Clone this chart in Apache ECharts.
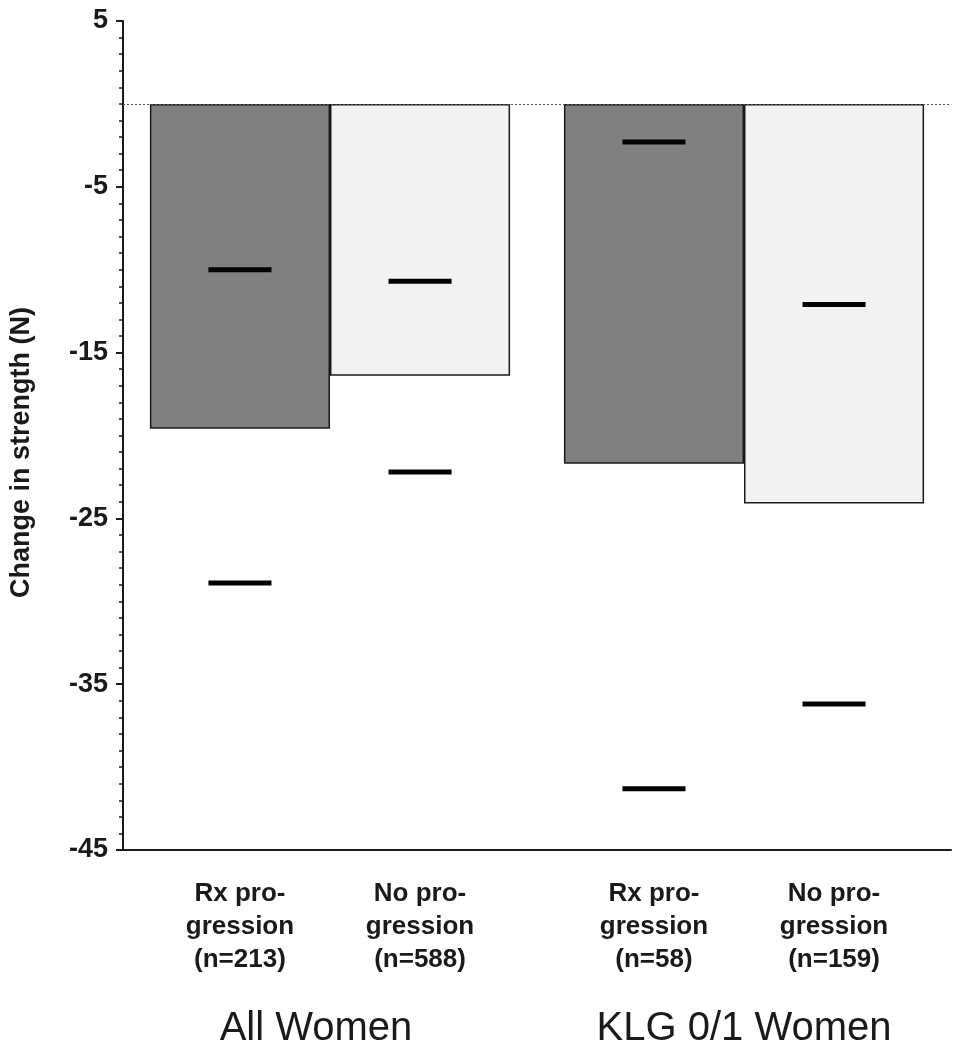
<!DOCTYPE html>
<html>
<head>
<meta charset="utf-8">
<script src="https://cdn.jsdelivr.net/npm/echarts@6/dist/echarts.min.js"></script>
<style>html,body{margin:0;padding:0;background:#fff;}#c{width:955px;height:1050px;}</style>
</head>
<body>
<div id="c"></div>
<script>
var groups = ['All Women', 'KLG 0/1 Women'];
var barLabels = [
  'Rx pro-\ngression\n(n=213)', 'No pro-\ngression\n(n=588)',
  'Rx pro-\ngression\n(n=58)', 'No pro-\ngression\n(n=159)'
];
var rxMeans = [-19.6, -21.7];
var noMeans = [-16.4, -24.1];
// [group index, sub index (0 = Rx, 1 = No), upper CI, lower CI]
var ciRx = [[0, 0, -10.0, -28.9], [1, 0, -2.3, -41.3]];
var ciNo = [[0, 1, -10.7, -22.2], [1, 1, -12.1, -36.2]];
var yTickValues = [-45, -35, -25, -15, -5, 5];
var yMin = -45, yMax = 5;

var FONT = 'Arial, "Liberation Sans", sans-serif';
var GAP = 0.13;

function ciRender(params, api) {
  var cat = api.value(0), sub = api.value(1);
  var catW = api.size([1, 0])[0];
  var barW = catW * (1 - GAP) / 2;
  var c = api.coord([cat, 0]);
  var cx = c[0] + (sub === 0 ? -barW / 2 : barW / 2);
  var yHi = api.coord([cat, api.value(2)])[1];
  var yLo = api.coord([cat, api.value(3)])[1];
  var yBase = api.coord([cat, yMin])[1];
  var dashW = barW * 0.35, th = 5;
  var lbl = barLabels[cat * 2 + sub];
  return {
    type: 'group',
    children: [
      {type: 'rect', shape: {x: cx - dashW / 2, y: yHi - th / 2, width: dashW, height: th}, style: {fill: '#000'}},
      {type: 'rect', shape: {x: cx - dashW / 2, y: yLo - th / 2, width: dashW, height: th}, style: {fill: '#000'}},
      {type: 'text', x: cx, y: yBase + 27, style: {
        text: lbl, fill: '#1a1a1a', font: 'bold 26px ' + FONT,
        align: 'center', verticalAlign: 'top', lineHeight: 33
      }}
    ]
  };
}

var chart = echarts.init(document.getElementById('c'), null, {renderer: 'canvas'});
chart.setOption({
  animation: false,
  backgroundColor: '#fff',
  grid: {left: 122, right: 4, top: 21, bottom: 200, containLabel: false},
  xAxis: {
    type: 'category',
    data: [
      {value: groups[0], textStyle: {padding: [0, 28, 0, 0]}},
      {value: groups[1]}
    ],
    axisLine: {onZero: false, lineStyle: {color: '#1a1a1a', width: 2}},
    axisTick: {alignWithLabel: true, length: 5, lineStyle: {color: '#1a1a1a', width: 1.5}},
    axisLabel: {margin: 159, fontFamily: FONT, fontSize: 40, color: '#1a1a1a'},
    splitLine: {show: false}
  },
  yAxis: [{
    type: 'value',
    min: yMin, max: yMax,
    interval: 1,
    name: 'Change in strength (N)',
    nameLocation: 'middle',
    nameGap: 88,
    nameTextStyle: {fontFamily: FONT, fontSize: 27, fontWeight: 'bold', color: '#1a1a1a', padding: [0, 34, 0, 0]},
    axisLine: {show: true, lineStyle: {color: '#1a1a1a', width: 2}},
    axisTick: {show: true, customValues: yTickValues, length: 7, lineStyle: {color: '#1a1a1a', width: 2}},
    axisLabel: {customValues: yTickValues, margin: 15, fontFamily: FONT, fontSize: 27, fontWeight: 'bold', color: '#1a1a1a'},
    splitLine: {show: false}
  }, {
    type: 'value',
    min: yMin, max: yMax,
    interval: 1,
    position: 'left',
    axisLine: {show: false},
    axisTick: {show: true, length: 4, lineStyle: {color: '#1a1a1a', width: 1.5}},
    axisLabel: {show: false},
    splitLine: {show: false}
  }],
  series: [{
    name: 'Rx progression',
    type: 'bar',
    data: rxMeans,
    barGap: '0%',
    barCategoryGap: (GAP * 100) + '%',
    itemStyle: {color: '#808080', borderColor: '#1a1a1a', borderWidth: 1.5},
    markLine: {
      silent: true, symbol: 'none', label: {show: false},
      lineStyle: {type: [2, 2], color: '#555', width: 1},
      data: [{yAxis: 0}]
    }
  }, {
    name: 'No progression',
    type: 'bar',
    data: noMeans,
    barGap: '0%',
    barCategoryGap: (GAP * 100) + '%',
    itemStyle: {color: '#f2f2f2', borderColor: '#1a1a1a', borderWidth: 1.5}
  }, {
    type: 'custom',
    clip: false,
    renderItem: ciRender,
    data: ciRx.concat(ciNo),
    encode: {x: 0, y: 2},
    z: 5
  }]
});
</script>
</body>
</html>
